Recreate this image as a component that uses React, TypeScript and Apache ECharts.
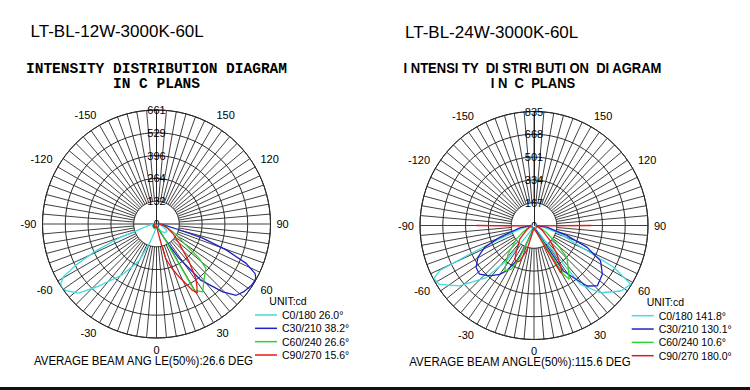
import React, { useEffect, useRef } from "react";
import * as echarts from "echarts";

const FONT = "'Liberation Sans', Arial, Helvetica, sans-serif";
const MONO = "'Liberation Mono', 'Courier New', monospace";

const LEFT_TITLE = "LT-BL-12W-3000K-60L";
const RIGHT_TITLE = "LT-BL-24W-3000K-60L";
const LEFT_SUB = ["INTENSITY DISTRIBUTION DIAGRAM", "IN C PLANS"];
const RIGHT_SUB = ["I NTENSI TY  DI STRI BUTI ON  DI AGRAM", "I N  C  PLANS"];
const LEFT_FOOT = "AVERAGE BEAM ANG LE(50%):26.6 DEG";
const RIGHT_FOOT = "AVERAGE BEAM ANGLE(50%):115.6 DEG";
const UNIT = "UNIT:cd";

const LEFT_R_TICKS = ["0", "132", "264", "396", "529", "661"];
const LEFT_R_MAX = 661;
const RIGHT_R_TICKS = ["0", "167", "334", "501", "668", "835"];
const RIGHT_R_MAX = 835;

const PLANES = ["C0/180", "C30/210", "C60/240", "C90/270"];
const LEFT_BEAMS = ["26.0°", "38.2°", "26.6°", "15.6°"];
const RIGHT_BEAMS = ["141.8°", "130.1°", "10.6°", "180.0°"];
const COLORS = ["#3fdde3", "#1e22c6", "#2fd42f", "#e01a1a"];

// Left chart (12W): gamma angle (deg) and intensity (cd)
const L_C0_ANG = [-90, -84, -78, -72, -69.5, -66, -63, -60.5, -58, -56, -53.5, -48.5, -43, -34, -25.5, -19, -14, -8, 0, 15, 30, 45, 55, 65, 78, 90];
const L_C0_CD = [10, 25, 55, 110, 235, 390, 525, 620, 655, 661, 650, 605, 495, 355, 240, 108, 50, 20, 12, 25, 50, 70, 75, 50, 25, 10];
const L_C30_ANG = [-90, -60, -30, -10, 0, 10, 20, 26, 30.8, 33.3, 37, 38.3, 44.3, 48.2, 52, 57, 60, 61.5, 63.3, 66.3, 69.6, 73, 75.7, 80, 85, 90];
const L_C30_CD = [10, 25, 25, 15, 10, 15, 25, 60, 141, 238, 347, 415, 550, 620, 640, 655, 658, 655, 640, 568, 431, 280, 135, 60, 30, 12];
const L_C60_ANG = [-90, -50, -20, 0, 10, 20, 27, 29.6, 34.2, 41.2, 48.1, 51.2, 54.5, 60, 65, 75, 90];
const L_C60_CD = [10, 25, 30, 8, 12, 18, 40, 442, 476, 420, 385, 318, 208, 140, 101, 50, 15];
const L_C90_ANG = [-90, -60, -30, 0, 5, 10, 13, 14.8, 19, 23.1, 28.5, 30.5, 33, 35.8, 40.9, 49.6, 60, 69.5, 80, 90];
const L_C90_CD = [10, 20, 25, 15, 20, 40, 104, 206, 270, 333, 437, 465, 430, 390, 289, 171, 110, 67, 35, 15];

// Right chart (24W)
const R_C0_ANG = [-90, -80, -74, -71, -66, -64.4, -62, -58.2, -51, -42.5, -38, -37, -33, -25, -15, 0, 15, 25, 33, 36, 37.5, 38.3, 44.7, 53, 58.7, 62.3, 64.6, 72.3, 80, 90];
const R_C0_CD = [15, 60, 120, 186, 517, 768, 830, 817, 702, 517, 328, 170, 60, 30, 20, 15, 20, 30, 60, 145, 356, 549, 693, 797, 830, 662, 431, 202, 70, 15];
const R_C30_ANG = [-90, -80.7, -71, -66.1, -60.4, -54, -48.2, -41.3, -35.1, -31.3, -26.3, -23.2, -21, -15, 0, 15, 25, 30, 33, 37.2, 41.3, 46.3, 54.5, 62, 67.6, 73, 82.4, 90];
const R_C30_CD = [20, 105, 266, 396, 473, 524, 535, 492, 437, 389, 288, 201, 80, 30, 15, 30, 45, 100, 397, 480, 590, 641, 615, 552, 421, 253, 95, 20];
const R_C60_ANG = [-90, -70, -60, -52.4, -42.2, -36, -32.8, -27.3, -23.8, -22, -15, 0, 15, 28, 30.3, 31.2, 33.2, 37.3, 45.9, 51.1, 60, 70, 90];
const R_C60_CD = [10, 40, 90, 161, 282, 350, 395, 360, 256, 120, 40, 20, 40, 100, 250, 417, 470, 418, 336, 215, 110, 50, 10];
const R_C90_ANG = [-90, -80, -60, -46.5, -34.7, -29.7, -25, -21.8, -16.3, -12, -5, 0, 5, 15, 20, 26, 28.9, 29.5, 31.6, 38.7, 46.8, 60, 75, 80, 90];
const R_C90_CD = [420, 20, 60, 143, 225, 284, 295, 279, 192, 60, 25, 20, 25, 40, 50, 130, 296, 398, 390, 268, 162, 70, 25, 15, 420];

const LEFT_CURVES = [
  [L_C0_ANG, L_C0_CD],
  [L_C30_ANG, L_C30_CD],
  [L_C60_ANG, L_C60_CD],
  [L_C90_ANG, L_C90_CD],
];
const RIGHT_CURVES = [
  [R_C0_ANG, R_C0_CD],
  [R_C30_ANG, R_C30_CD],
  [R_C60_ANG, R_C60_CD],
  [R_C90_ANG, R_C90_CD],
];

const POLARS = [
  { cx: 156.5, cy: 224, r: 114 },
  { cx: 534, cy: 225.5, r: 114 },
];

const GRID = "#2a2a2a";

function angleAxis(i: number) {
  return {
    polarIndex: i,
    type: "value",
    min: -180,
    max: 180,
    interval: 30,
    startAngle: 90,
    clockwise: false,
    z: 0,
    axisLine: { show: true, lineStyle: { color: "#222", width: 1 } },
    axisTick: { show: false },
    minorTick: { show: false, splitNumber: 6 },
    splitLine: { show: true, lineStyle: { color: GRID, width: 0.9 } },
    minorSplitLine: { show: true, lineStyle: { color: GRID, width: 0.9 } },
    axisLabel: {
      margin: 6,
      fontSize: 11,
      color: "#000",
      fontFamily: FONT,
      formatter: (v: number) => (Math.abs(v) === 180 ? "" : String(v)),
    },
  };
}

function radiusAxis(i: number, max: number, ticks: string[]) {
  const step = max / (ticks.length - 1);
  return {
    polarIndex: i,
    type: "value",
    min: 0,
    max,
    interval: step,
    z: 2,
    axisLine: { show: true, lineStyle: { color: "#222", width: 1 } },
    axisTick: { show: false },
    splitLine: { show: true, lineStyle: { color: GRID, width: 1 } },
    axisLabel: {
      margin: 0,
      align: "center",
      verticalAlign: "middle",
      fontSize: 11,
      color: "#000",
      fontFamily: FONT,
      formatter: (v: number) => ticks[Math.round(v / step)] ?? "",
    },
  };
}

function buildSeries(i: number, curves: number[][][], beams: string[]) {
  return curves.map(([ang, cd], k) => ({
    type: "line",
    name: `${PLANES[k]} ${beams[k]}`,
    coordinateSystem: "polar",
    polarIndex: i,
    data: cd.map((v, j) => [v, ang[j]]),
    showSymbol: false,
    symbol: "none",
    silent: true,
    z: 3,
    color: COLORS[k],
    itemStyle: { color: COLORS[k] },
    lineStyle: { color: COLORS[k], width: 1.3 },
  }));
}

function legend(left: number, top: number, beams: string[]) {
  return {
    data: PLANES.map((p, k) => `${p} ${beams[k]}`),
    left,
    top,
    orient: "vertical",
    icon: "rect",
    itemWidth: 22,
    itemHeight: 1.5,
    itemGap: 1.33,
    padding: 0,
    selectedMode: false,
    textStyle: { fontSize: 10.5, lineHeight: 12, color: "#000", fontFamily: FONT },
  };
}

function text(x: number, y: number, s: string, opts: any = {}) {
  const { align = "left", size = 11, family = FONT, weight = "normal", scaleX = 1 } = opts;
  return {
    type: "text",
    x,
    y,
    scaleX,
    z: 10,
    silent: true,
    style: {
      text: s,
      fontSize: size,
      fontFamily: family,
      fontWeight: weight,
      fill: "#000",
      align,
      verticalAlign: "middle",
      textAlign: align,
      textVerticalAlign: "middle",
    },
  };
}

export default function App() {
  const ref = useRef<HTMLDivElement>(null);
  useEffect(() => {
    const chart = echarts.init(ref.current!, null, { renderer: "svg" });
    const [P0, P1] = POLARS;
    const graphic: any[] = [
      { type: "circle", z: 1, silent: true, shape: { cx: P0.cx, cy: P0.cy, r: P0.r / 5 }, style: { fill: "#fff" } },
      { type: "circle", z: 1, silent: true, shape: { cx: P1.cx, cy: P1.cy, r: P1.r / 5 }, style: { fill: "#fff" } },
      {
        type: "line",
        z: 1.5,
        silent: true,
        shape: { x1: P0.cx - P0.r / 5, y1: P0.cy, x2: P0.cx + P0.r / 5, y2: P0.cy },
        style: { stroke: "#222", lineWidth: 1 },
      },
      text(30.5, 31.5, LEFT_TITLE, { size: 17 }),
      text(405, 32, RIGHT_TITLE, { size: 17 }),
      text(156.5, 68.5, LEFT_SUB[0], { align: "center", size: 14.5, family: MONO, weight: "bold" }),
      text(156.5, 84, LEFT_SUB[1], { align: "center", size: 14.5, family: MONO, weight: "bold" }),
      text(532.5, 68.5, RIGHT_SUB[0], { align: "center", size: 14, weight: "bold", scaleX: 0.93 }),
      text(533, 83, RIGHT_SUB[1], { align: "center", size: 14, weight: "bold", scaleX: 0.93 }),
      text(34, 361, LEFT_FOOT, { size: 13.5, scaleX: 0.85 }),
      text(409.3, 361.5, RIGHT_FOOT, { size: 13.5, scaleX: 0.85 }),
      text(269.3, 301, UNIT, { size: 10.5 }),
      text(646.7, 302.3, UNIT, { size: 10.5 }),
      { type: "rect", z: 10, silent: true, shape: { x: 0, y: 387, width: 750, height: 3 }, style: { fill: "#111" } },
    ];
    chart.setOption({
      animation: false,
      backgroundColor: "#fff",
      polar: POLARS.map((p) => ({ center: [p.cx, p.cy], radius: p.r })),
      angleAxis: [angleAxis(0), angleAxis(1)],
      radiusAxis: [radiusAxis(0, LEFT_R_MAX, LEFT_R_TICKS), radiusAxis(1, RIGHT_R_MAX, RIGHT_R_TICKS)],
      legend: [legend(255, 309, LEFT_BEAMS), legend(631.7, 309.7, RIGHT_BEAMS)],
      series: [...buildSeries(0, LEFT_CURVES, LEFT_BEAMS), ...buildSeries(1, RIGHT_CURVES, RIGHT_BEAMS)],
      graphic,
    });
    return () => chart.dispose();
  }, []);
  return (
    <div
      ref={ref}
      style={{ position: "fixed", left: 0, top: 0, width: 750, height: 390, background: "#fff" }}
    />
  );
}
